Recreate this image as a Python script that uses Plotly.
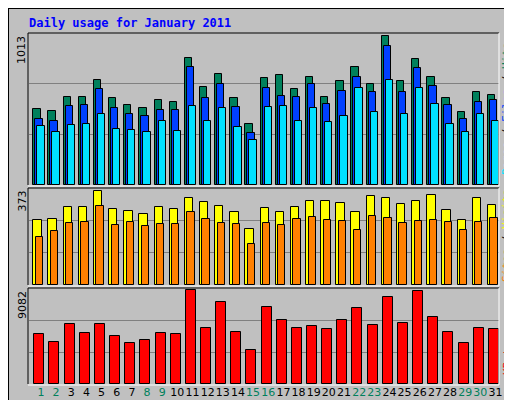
import plotly.graph_objects as go

days = list(range(1, 32))
hits = [508,494,589,589,697,582,535,514,568,555,846,656,743,582,406,716,730,643,723,589,690,784,676,993,690,838,723,582,487,622,602]
files = [440,427,528,535,643,514,474,460,501,501,784,582,676,521,346,649,595,589,676,541,629,723,622,926,622,777,662,535,440,555,568]
pages = [393,352,400,406,474,373,366,352,427,359,528,427,514,386,298,521,528,427,514,420,460,649,487,703,474,649,541,406,352,474,427]
sites = [249,253,300,300,363,292,284,272,300,292,335,320,304,280,217,296,280,300,323,323,316,280,343,335,312,323,347,288,249,335,308]
visits = [186,206,237,241,304,229,241,225,233,233,280,253,237,233,158,237,229,253,261,249,245,210,265,257,237,245,249,241,210,241,257]
kbytes = [4693,4013,5663,4790,5663,4499,3916,4207,4790,4693,8869,5275,7800,4887,3236,7315,6052,5275,5469,5178,6052,7218,5566,8191,5760,8772,6343,4887,3916,5275,5178]
weekend = {1,2,8,9,15,16,22,23,29,30}
max_hits, max_sites, max_kb = 1013, 373, 9082

W, H = 512, 400
def py(p): return 1 - p / H
def px(p): return p / W

fig = go.Figure()
line = dict(color="black", width=1)
def bar(y, color, off, w, ya):
    fig.add_trace(go.Bar(x=days, y=y, offset=off, width=w, marker=dict(color=color, line=line),
                         xaxis="x", yaxis=ya, showlegend=False, hoverinfo="skip"))

bar(hits, "#00805c", -0.216, 0.48, "y")
bar(files, "#0040ff", -0.084, 0.48, "y")
bar(pages, "#00e0ff", 0.048, 0.48, "y")
bar(sites, "#ffff00", -0.216, 0.55, "y2")
bar(visits, "#ff8000", -0.052, 0.48, "y2")
bar(kbytes, "#ff0000", -0.15, 0.66, "y3")

xd = [px(21), px(490.7)]
ax_common = dict(showticklabels=False, ticks="", gridcolor="#808080", gridwidth=1,
                 zeroline=False, showline=False, fixedrange=True, automargin=False)
ticktext = [f'<span style="color:{"#00805c" if d in weekend else "#000000"}">{d}</span>' for d in days]
fig.update_layout(
    width=W, height=H, margin=dict(l=0, r=0, t=0, b=0, autoexpand=False),
    paper_bgcolor="#c0c0c0", plot_bgcolor="#c0c0c0", barmode="overlay", bargap=0,
    font=dict(family="DejaVu Sans", size=11, color="black"),
    xaxis=dict(domain=xd, range=[0.5, 31.5], anchor="y3", showgrid=False, zeroline=False,
               tickvals=[d + 0.29 for d in days], ticktext=ticktext, ticks="", tickangle=0,
               tickfont=dict(size=11), showline=False, automargin=False, ticklabelstandoff=0),
    yaxis=dict(domain=[py(177), py(25)], range=[0, max_hits], tickvals=[max_hits/3, 2*max_hits/3], **ax_common),
    yaxis2=dict(domain=[py(277), py(180)], range=[0, max_sites], tickvals=[max_sites/3, 2*max_sites/3], **ax_common),
    yaxis3=dict(domain=[py(376), py(280)], range=[0, max_kb], tickvals=[max_kb/3, 2*max_kb/3], **ax_common),
)
shapes = []
for top, bot in [(25, 177), (180, 277), (280, 376)]:
    shapes.append(dict(type="line", xref="paper", yref="paper", x0=px(20), x1=px(491), y0=py(top), y1=py(top), line=dict(color="black", width=1)))
    shapes.append(dict(type="line", xref="paper", yref="paper", x0=px(20), x1=px(20), y0=py(top), y1=py(bot), line=dict(color="black", width=1)))
    shapes.append(dict(type="line", xref="paper", yref="paper", x0=px(20), x1=px(491), y0=py(bot+1), y1=py(bot+1), line=dict(color="white", width=1)))
    shapes.append(dict(type="line", xref="paper", yref="paper", x0=px(491), x1=px(491), y0=py(top), y1=py(bot+1), line=dict(color="white", width=1)))
shapes.append(dict(type="rect", xref="paper", yref="paper", x0=0, x1=1, y0=0, y1=1, line=dict(color="black", width=2)))
shapes.append(dict(type="line", xref="paper", yref="paper", x0=px(508), x1=px(508), y0=py(4), y1=py(396), line=dict(color="#808080", width=4)))
shapes.append(dict(type="line", xref="paper", yref="paper", x0=px(4), x1=px(508), y0=py(396), y1=py(396), line=dict(color="#808080", width=4)))
fig.update_layout(shapes=shapes)

mono = "DejaVu Sans Mono"
ann = [
    dict(x=px(19), y=py(15), text="<b>Daily usage for January 2011</b>", xanchor="left", yanchor="middle",
         font=dict(family=mono, size=12, color="#0000ff")),
    dict(x=px(14), y=py(26), text=str(max_hits), textangle=-90, xanchor="center", yanchor="top", font=dict(size=11)),
    dict(x=px(14), y=py(181), text=str(max_sites), textangle=-90, xanchor="center", yanchor="top", font=dict(size=11)),
    dict(x=px(14), y=py(281), text=str(max_kb), textangle=-90, xanchor="center", yanchor="top", font=dict(size=11)),
    dict(x=px(499), y=py(101), textangle=-90, xanchor="center", yanchor="middle",
         text='<span style="color:#00e0ff">Pages</span> / <span style="color:#0040ff">Files</span> / <span style="color:#00805c">Hits</span>',
         font=dict(family=mono, size=11, color="black")),
    dict(x=px(499), y=py(228), textangle=-90, xanchor="center", yanchor="middle",
         text='<span style="color:#ff8000">Sites</span> / <span style="color:#ffff00">Visits</span>',
         font=dict(family=mono, size=11, color="black")),
    dict(x=px(499), y=py(347), textangle=-90, xanchor="center", yanchor="middle",
         text='<span style="color:#ff0000">KBytes</span>', font=dict(family=mono, size=11)),
]
for a in ann:
    a.update(xref="paper", yref="paper", showarrow=False)
fig.update_layout(annotations=ann)
fig.write_html("out.html")
